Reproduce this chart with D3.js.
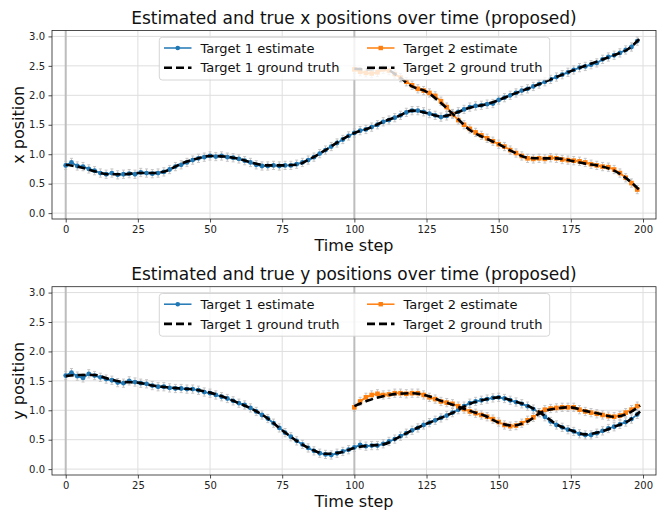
<!DOCTYPE html>
<html>
<head>
<meta charset="utf-8">
<script src="https://cdn.jsdelivr.net/npm/d3@7"></script>
<style>
  body { margin: 0; background: #fff; }
  svg { display: block; font-family: "DejaVu Sans", sans-serif; }
</style>
</head>
<body>
<svg id="chart" width="657" height="510"></svg>
<script>
// time steps: estimates sampled every 2 steps, ground truth every 5
const estStepsT1 = d3.range(0, 200, 2);
const estStepsT2 = d3.range(100, 200, 2);
const truthStepsT1 = [0, 5, 10, 15, 20, 25, 30, 35, 40, 45, 50, 55, 60, 65, 70, 75, 80, 85, 90, 95,
  100, 105, 110, 115, 120, 125, 130, 135, 140, 145, 150, 155, 160, 165, 170, 175, 180, 185, 190, 195, 199];
const truthStepsT2 = [100, 105, 110, 115, 120, 125, 130, 135, 140, 145, 150, 155, 160, 165, 170, 175, 180, 185, 190, 195, 199];

// x position
const xEstT1 = [0.81, 0.86, 0.80, 0.79, 0.75, 0.72, 0.68, 0.66, 0.68, 0.65,
  0.66, 0.67, 0.66, 0.69, 0.68, 0.67, 0.68, 0.70, 0.74, 0.79,
  0.82, 0.86, 0.90, 0.93, 0.95, 0.97, 0.96, 0.97, 0.95, 0.94,
  0.92, 0.89, 0.86, 0.82, 0.80, 0.80, 0.81, 0.80, 0.81, 0.81,
  0.83, 0.86, 0.90, 0.95, 1.01, 1.07, 1.13, 1.19, 1.25, 1.31,
  1.36, 1.40, 1.42, 1.46, 1.50, 1.55, 1.58, 1.62, 1.66, 1.71,
  1.74, 1.74, 1.72, 1.69, 1.66, 1.63, 1.65, 1.69, 1.72, 1.76,
  1.80, 1.82, 1.83, 1.85, 1.86, 1.92, 1.96, 2.00, 2.04, 2.08,
  2.11, 2.15, 2.19, 2.23, 2.27, 2.31, 2.35, 2.39, 2.43, 2.47,
  2.49, 2.52, 2.55, 2.61, 2.65, 2.68, 2.72, 2.77, 2.82, 2.92];
const xTruthT1 = [0.82, 0.78, 0.71, 0.66, 0.66, 0.68, 0.68, 0.72, 0.84, 0.92,
  0.97, 0.96, 0.92, 0.85, 0.81, 0.81, 0.82, 0.93, 1.07, 1.23,
  1.36, 1.44, 1.55, 1.64, 1.74, 1.70, 1.64, 1.70, 1.79, 1.84,
  1.92, 2.02, 2.11, 2.21, 2.31, 2.41, 2.50, 2.59, 2.68, 2.79, 2.97];
const xEstT2 = [2.44, 2.40, 2.38, 2.37, 2.39, 2.44, 2.42, 2.36, 2.30, 2.23,
  2.17, 2.11, 2.08, 2.04, 1.99, 1.90, 1.80, 1.68, 1.58, 1.50,
  1.43, 1.37, 1.32, 1.27, 1.22, 1.17, 1.13, 1.07, 1.02, 0.97,
  0.93, 0.92, 0.93, 0.92, 0.94, 0.93, 0.91, 0.90, 0.89, 0.88,
  0.86, 0.83, 0.81, 0.79, 0.78, 0.74, 0.68, 0.60, 0.51, 0.40];
const xTruthT2 = [2.45, 2.44, 2.46, 2.33, 2.15, 2.06, 1.87, 1.64, 1.41, 1.28,
  1.17, 1.04, 0.94, 0.93, 0.93, 0.89, 0.84, 0.80, 0.72, 0.56, 0.38];

// y position
const yEstT1 = [1.59, 1.64, 1.58, 1.55, 1.62, 1.59, 1.56, 1.53, 1.51, 1.47,
  1.46, 1.50, 1.48, 1.46, 1.45, 1.42, 1.40, 1.40, 1.38, 1.37,
  1.37, 1.36, 1.36, 1.34, 1.31, 1.29, 1.26, 1.23, 1.20, 1.16,
  1.12, 1.09, 1.04, 0.98, 0.92, 0.86, 0.78, 0.70, 0.62, 0.55,
  0.48, 0.42, 0.36, 0.31, 0.27, 0.25, 0.24, 0.27, 0.30, 0.33,
  0.37, 0.41, 0.39, 0.40, 0.40, 0.43, 0.47, 0.51, 0.56, 0.61,
  0.66, 0.70, 0.75, 0.79, 0.83, 0.87, 0.91, 0.96, 1.01, 1.07,
  1.12, 1.15, 1.17, 1.19, 1.21, 1.22, 1.20, 1.17, 1.14, 1.11,
  1.07, 1.02, 0.96, 0.89, 0.81, 0.75, 0.71, 0.67, 0.64, 0.60,
  0.58, 0.58, 0.61, 0.65, 0.69, 0.72, 0.76, 0.80, 0.85, 0.93];
const yTruthT1 = [1.58, 1.60, 1.60, 1.53, 1.48, 1.47, 1.42, 1.39, 1.37, 1.35,
  1.30, 1.22, 1.12, 1.01, 0.86, 0.66, 0.48, 0.34, 0.26, 0.28,
  0.36, 0.40, 0.42, 0.53, 0.66, 0.77, 0.87, 0.98, 1.11, 1.18,
  1.22, 1.16, 1.08, 0.94, 0.76, 0.66, 0.59, 0.63, 0.72, 0.82, 0.98];
const yEstT2 = [1.05, 1.15, 1.22, 1.26, 1.28, 1.26, 1.27, 1.29, 1.29, 1.28,
  1.29, 1.29, 1.26, 1.22, 1.19, 1.15, 1.13, 1.11, 1.07, 1.02,
  0.98, 0.95, 0.92, 0.89, 0.85, 0.80, 0.75, 0.73, 0.74, 0.78,
  0.83, 0.88, 0.96, 1.01, 1.03, 1.04, 1.05, 1.05, 1.05, 1.01,
  0.98, 0.96, 0.94, 0.92, 0.90, 0.89, 0.91, 0.96, 1.01, 1.07];
const yTruthT2 = [1.07, 1.17, 1.24, 1.28, 1.29, 1.25, 1.16, 1.08, 0.99, 0.91,
  0.79, 0.74, 0.81, 0.97, 1.03, 1.05, 0.99, 0.94, 0.89, 0.95, 1.08];

const estErr = 0.07;           // half-height of the grey error bars
const spawnSteps = [0, 100];   // grey vertical markers
const xTicks = [0, 25, 50, 75, 100, 125, 150, 175, 200];
const yTicks = [0, 0.5, 1.0, 1.5, 2.0, 2.5, 3.0];
const legendLabels = ['Target 1 estimate', 'Target 1 ground truth', 'Target 2 estimate', 'Target 2 ground truth'];

const BLUE = '#1f77b4', ORANGE = '#ff7f0e';
const svg = d3.select('#chart');

function drawPanel(top, bottom, title, ylabel, est1, truth1, est2, truth2) {
  const left = 52, right = 656;
  const x = d3.scaleLinear().domain([-4.75, 204.5]).range([left, right]);
  const y = d3.scaleLinear().domain([-0.1, 3.1]).range([bottom, top]);
  const g = svg.append('g');

  // grid
  g.append('g').selectAll('line').data(xTicks).join('line')
    .attr('x1', d => x(d)).attr('x2', d => x(d)).attr('y1', top).attr('y2', bottom)
    .attr('stroke', '#dedede').attr('stroke-width', 1);
  g.append('g').selectAll('line').data(yTicks).join('line')
    .attr('x1', left).attr('x2', right).attr('y1', d => y(d)).attr('y2', d => y(d))
    .attr('stroke', '#dedede').attr('stroke-width', 1);

  // new-target markers
  g.append('g').selectAll('line').data(spawnSteps).join('line')
    .attr('x1', d => x(d)).attr('x2', d => x(d)).attr('y1', top).attr('y2', bottom)
    .attr('stroke', '#bdbdbd').attr('stroke-width', 2);

  const series = [
    {steps: estStepsT1, vals: est1, color: BLUE, marker: 'dot'},
    {steps: estStepsT2, vals: est2, color: ORANGE, marker: 'square'},
  ];

  // error bars
  series.forEach(s => {
    const eb = g.append('g').attr('stroke', '#bcbcbc').attr('stroke-width', 1).attr('opacity', 0.85);
    s.vals.forEach((v, i) => {
      const cx = x(s.steps[i]);
      eb.append('line').attr('x1', cx).attr('x2', cx).attr('y1', y(v - estErr)).attr('y2', y(v + estErr));
      eb.append('line').attr('x1', cx - 1.5).attr('x2', cx + 1.5).attr('y1', y(v - estErr)).attr('y2', y(v - estErr));
      eb.append('line').attr('x1', cx - 1.5).attr('x2', cx + 1.5).attr('y1', y(v + estErr)).attr('y2', y(v + estErr));
    });
  });

  // estimates
  series.forEach(s => {
    const pts = s.vals.map((v, i) => [s.steps[i], v]);
    g.append('path').datum(pts)
      .attr('d', d3.line().x(d => x(d[0])).y(d => y(d[1])))
      .attr('fill', 'none').attr('stroke', s.color).attr('stroke-width', 1.8);
    if (s.marker === 'dot') {
      g.append('g').selectAll('circle').data(pts).join('circle')
        .attr('cx', d => x(d[0])).attr('cy', d => y(d[1])).attr('r', 2.4).attr('fill', s.color);
    } else {
      g.append('g').selectAll('rect').data(pts).join('rect')
        .attr('x', d => x(d[0]) - 2.3).attr('y', d => y(d[1]) - 2.3)
        .attr('width', 4.6).attr('height', 4.6).attr('fill', s.color);
    }
  });

  // ground truth
  [[truthStepsT1, truth1], [truthStepsT2, truth2]].forEach(([steps, vals]) => {
    g.append('path').datum(vals.map((v, i) => [steps[i], v]))
      .attr('d', d3.line().x(d => x(d[0])).y(d => y(d[1])).curve(d3.curveMonotoneX))
      .attr('fill', 'none').attr('stroke', '#000').attr('stroke-width', 2.6)
      .attr('stroke-dasharray', '8,4');
  });

  // axes
  const ax = g.append('g').attr('transform', `translate(0,${bottom})`)
    .call(d3.axisBottom(x).tickValues(xTicks).tickSize(3.5).tickPadding(3.5).tickSizeOuter(0));
  const ay = g.append('g').attr('transform', `translate(${left},0)`)
    .call(d3.axisLeft(y).tickValues(yTicks).tickFormat(d3.format('.1f')).tickSize(3.5).tickPadding(3.5).tickSizeOuter(0));
  [ax, ay].forEach(a => {
    a.select('.domain').remove();
    a.selectAll('text').attr('font-size', 10).attr('fill', '#222').attr('font-family', 'DejaVu Sans');
    a.selectAll('line').attr('stroke', '#222').attr('stroke-width', 0.8);
  });
  g.append('rect').attr('x', left).attr('y', top).attr('width', right - left).attr('height', bottom - top)
    .attr('fill', 'none').attr('stroke', '#222').attr('stroke-width', 0.8);

  // labels
  g.append('text').attr('x', (left + right) / 2).attr('y', top - 6.5).attr('text-anchor', 'middle')
    .attr('font-size', 17).attr('fill', '#111').text(title);
  g.append('text').attr('x', (left + right) / 2).attr('y', bottom + 32).attr('text-anchor', 'middle')
    .attr('font-size', 16).attr('fill', '#111').text('Time step');
  g.append('text').attr('transform', `translate(24,${(top + bottom) / 2}) rotate(-90)`)
    .attr('text-anchor', 'middle').attr('font-size', 16).attr('fill', '#111').text(ylabel);

  // legend
  const lg = g.append('g');
  lg.append('rect').attr('x', 159.3).attr('y', top + 6.8).attr('width', 390.4).attr('height', 42.7)
    .attr('rx', 3).attr('fill', '#fff').attr('fill-opacity', 0.8).attr('stroke', '#cccccc').attr('stroke-width', 0.8);
  const rows = [top + 17.5, top + 37.2];
  const cols = [164, 367];
  const items = [
    {col: 0, row: 0, color: BLUE, marker: 'dot'},
    {col: 0, row: 1, color: '#000', dash: true},
    {col: 1, row: 0, color: ORANGE, marker: 'square'},
    {col: 1, row: 1, color: '#000', dash: true},
  ];
  items.forEach((it, i) => {
    const hx = cols[it.col], hy = rows[it.row];
    lg.append('line').attr('x1', hx).attr('x2', hx + 27.5).attr('y1', hy).attr('y2', hy)
      .attr('stroke', it.color).attr('stroke-width', it.dash ? 2.6 : 1.5)
      .attr('stroke-dasharray', it.dash ? '8,4' : null);
    if (it.marker === 'dot') {
      lg.append('circle').attr('cx', hx + 13.75).attr('cy', hy).attr('r', 2.3).attr('fill', it.color);
    } else if (it.marker === 'square') {
      lg.append('rect').attr('x', hx + 13.75 - 2.2).attr('y', hy - 2.2).attr('width', 4.4).attr('height', 4.4).attr('fill', it.color);
    }
    lg.append('text').attr('x', hx + 36.5).attr('y', hy).attr('dy', '0.36em')
      .attr('font-size', 13).attr('fill', '#111').text(legendLabels[i]);
  });
}

drawPanel(30.5, 219, 'Estimated and true x positions over time (proposed)', 'x position',
  xEstT1, xTruthT1, xEstT2, xTruthT2);
drawPanel(286.7, 475, 'Estimated and true y positions over time (proposed)', 'y position',
  yEstT1, yTruthT1, yEstT2, yTruthT2);
</script>
</body>
</html>
